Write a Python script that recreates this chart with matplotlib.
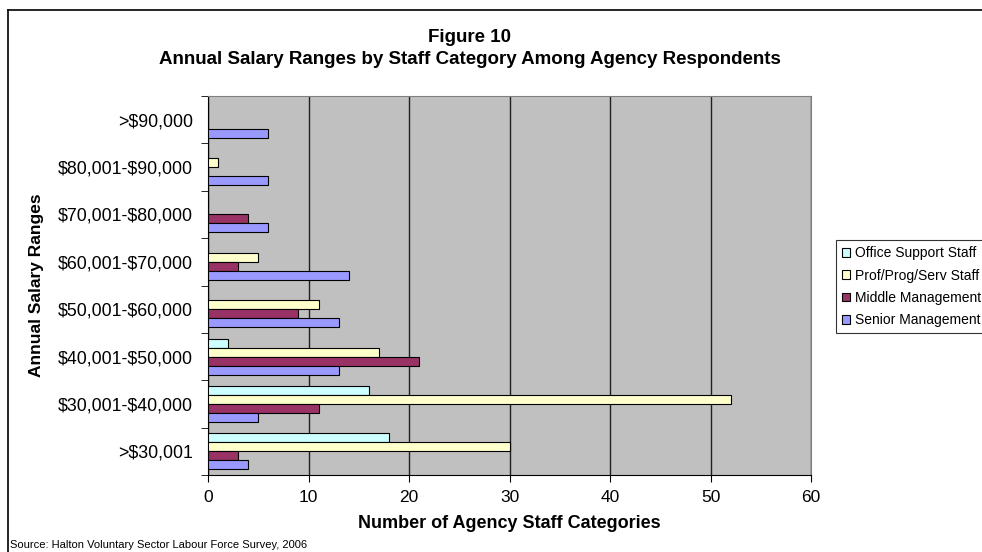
import numpy as np
import matplotlib
matplotlib.use("Agg")
import matplotlib.pyplot as plt

plt.rcParams['font.family'] = ['Liberation Sans', 'DejaVu Sans']
plt.rcParams['text.parse_math'] = False

# salary ranges, bottom to top
ranges = [">$30,001", "$30,001-$40,000", "$40,001-$50,000", "$50,001-$60,000",
          "$60,001-$70,000", "$70,001-$80,000", "$80,001-$90,000", ">$90,000"]
office = [18, 16, 2, 0, 0, 0, 0, 0]
prof = [30, 52, 17, 11, 5, 0, 1, 0]
middle = [3, 11, 21, 9, 3, 4, 0, 0]
senior = [4, 5, 13, 13, 14, 6, 6, 6]

series = [("Office Support Staff", office, "#CCFFFF"),
          ("Prof/Prog/Serv Staff", prof, "#FFFFCC"),
          ("Middle Management", middle, "#993366"),
          ("Senior Management", senior, "#9999FF")]

fig = plt.figure(figsize=(9.82, 5.52), dpi=100)
ax = fig.add_axes([208/982, 1-475/552, (811-208)/982, (475-96)/552])
ax.set_facecolor("#C0C0C0")

y = np.arange(len(ranges))
h = 0.19
offsets = [1.5*h, 0.5*h, -0.5*h, -1.5*h]
for (name, vals, col), off in zip(series, offsets):
    ax.barh(y + off, vals, height=h, color=col, edgecolor="black", linewidth=0.8,
            label=name, zorder=3)

ax.set_xlim(0, 60)
ax.set_ylim(-0.5, len(ranges) - 0.5)
ax.set_xticks(range(0, 61, 10))
ax.tick_params(axis='x', labelsize=12.5, length=5, direction='out', pad=6)
ax.set_yticks(y)
ax.set_yticklabels(ranges, fontsize=12.8)
ax.tick_params(axis='y', length=0, pad=11)
ax.set_yticks(np.arange(-0.5, len(ranges), 1), minor=True)
ax.tick_params(axis='y', which='minor', length=5, direction='out')
ax.grid(axis='x', color='#202020', linewidth=1, zorder=1)

for s in ['top', 'right']:
    ax.spines[s].set_color('#808080')
for s in ['left', 'bottom']:
    ax.spines[s].set_color('black')

ax.set_xlabel("Number of Agency Staff Categories", fontsize=13, fontweight='bold', labelpad=7)
fig.text(37/982, 1-285/552, "Annual Salary Ranges", rotation=90, fontsize=12.5,
         fontweight='bold', ha='center', va='center')

fig.text(470/982, 1-38/552, "Figure 10", fontsize=13.5, fontweight='bold', ha='center', va='center')
fig.text(470/982, 1-59/552, "Annual Salary Ranges by Staff Category Among Agency Respondents",
         fontsize=13.5, fontweight='bold', ha='center', va='center')

fig.text(10/982, 1-545/552, "Source: Halton Voluntary Sector Labour Force Survey, 2006",
         fontsize=8, ha='left', va='center')

# chart border (cut off at right and bottom)
fig.add_artist(plt.Line2D([8/982, 8/982], [0, 1-10/552], color='black', linewidth=1.2,
                          transform=fig.transFigure))
fig.add_artist(plt.Line2D([8/982, 1], [1-10/552, 1-10/552], color='black', linewidth=1.2,
                          transform=fig.transFigure))

leg = ax.legend(loc='upper left', bbox_to_anchor=(836/982, 1-240/552),
                bbox_transform=fig.transFigure, fontsize=10, frameon=True, fancybox=False,
                edgecolor='black', handlelength=0.55, handleheight=0.55, handletextpad=0.4,
                borderpad=0.45, labelspacing=0.6, borderaxespad=0)
leg.get_frame().set_linewidth(0.8)

fig.savefig("out.png", dpi=100)
